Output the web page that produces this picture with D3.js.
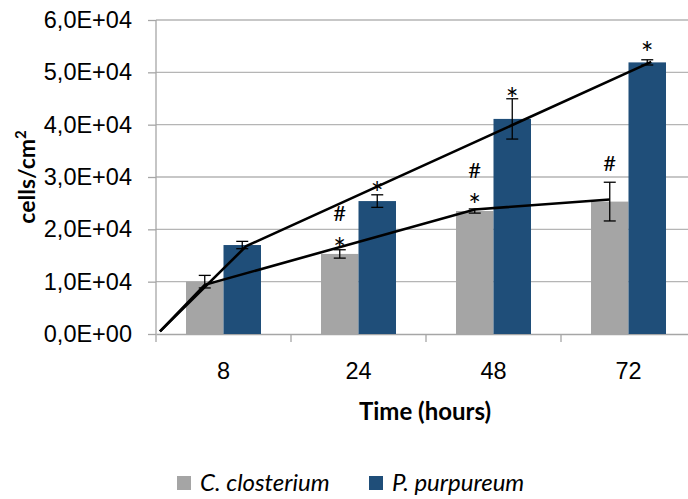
<!DOCTYPE html>
<html>
<head>
<meta charset="utf-8">
<script src="https://cdn.jsdelivr.net/npm/d3@7"></script>
<style>
  body { margin: 0; background: #fff; }
  svg { font-family: Lato, 'Open Sans', sans-serif; }
</style>
</head>
<body>
<div id="chart-area"></div>
<script>
var hours = ['8', '24', '48', '72'];
var species = ['C. closterium', 'P. purpureum'];
var closterium = [10000, 15300, 23500, 25300];
var purpureum = [17000, 25400, 41100, 51900];
var closteriumErr = [1200, 800, 400, 3700];
var purpureumErr = [700, 1200, 3850, 500];
var yTicks = [0, 10000, 20000, 30000, 40000, 50000, 60000];

// hand drawn trend lines: [hour or 'start', value]
var purpureumLine = [['start', 500], ['8', 16800], ['72', 52000]];
var closteriumLine = [['start', 500], ['8', 9400], ['48', 23800], ['72', 25700]];

// significance marks: [symbol, species index, hour, height]
var marks = [
  ['*', 0, '24', 17500], ['#', 0, '24', 23100], ['*', 1, '24', 28200],
  ['*', 0, '48', 26000], ['#', 0, '48', 31400], ['*', 1, '48', 46200],
  ['#', 0, '72', 32700], ['*', 1, '72', 55000]
];

var colors = ['#a5a5a5', '#1f4e79'];

var margin = { top: 20, right: 0, bottom: 165, left: 156 };
var width = 696 - margin.left;
var height = 499 - margin.top - margin.bottom;

var svg = d3.select('#chart-area').append('svg')
  .attr('width', 688).attr('height', 499);
var g = svg.append('g').attr('transform', `translate(${margin.left}, ${margin.top})`);

var x0 = d3.scaleBand().domain(hours).range([0, width]);
var x1 = d3.scaleBand().domain([0, 1]).range([0, x0.bandwidth()]).paddingOuter(0.8);
var y = d3.scaleLinear().domain([0, 60000]).range([height, 0]);

var fmt = d => (d / 10000).toFixed(1).replace('.', ',') + 'E+0' + (d === 0 ? '0' : '4');

// gridlines
g.selectAll('.grid').data(yTicks.slice(1)).enter().append('line')
  .attr('x1', 0).attr('x2', width)
  .attr('y1', d => y(d)).attr('y2', d => y(d))
  .attr('stroke', '#b5b5b5').attr('stroke-width', 1.3);

var yAxis = g.append('g').call(d3.axisLeft(y).tickValues(yTicks).tickFormat(fmt).tickSize(8).tickPadding(16));
yAxis.selectAll('line').attr('stroke', '#a6a6a6').attr('stroke-width', 1.3);
yAxis.select('.domain').attr('stroke', '#a6a6a6').attr('stroke-width', 1.3).attr('d', `M0,0V${height}`);
yAxis.selectAll('text').attr('font-size', '23.5px').attr('fill', '#000');

var xAxis = g.append('g').attr('transform', `translate(0, ${height})`)
  .call(d3.axisBottom(x0).tickSize(0).tickPadding(28));
xAxis.select('.domain').attr('stroke', '#a6a6a6').attr('stroke-width', 1.3);
xAxis.selectAll('text').attr('font-size', '23.5px').attr('fill', '#000');
xAxis.selectAll('.sep').data(hours).enter().append('line')
  .attr('x1', d => x0(d)).attr('x2', d => x0(d))
  .attr('y1', 0).attr('y2', 8)
  .attr('stroke', '#a6a6a6').attr('stroke-width', 1.3);

var rows = [closterium, purpureum];
var errs = [closteriumErr, purpureumErr];
var bars = [];
rows.forEach((vals, s) => vals.forEach((v, i) => bars.push({ s: s, h: hours[i], v: v, e: errs[s][i] })));

g.selectAll('rect.bar').data(bars).enter().append('rect')
  .attr('class', 'bar')
  .attr('x', d => x0(d.h) + x1(d.s))
  .attr('y', d => y(d.v))
  .attr('width', x1.bandwidth())
  .attr('height', d => height - y(d.v))
  .attr('fill', d => colors[d.s]);

// error bars
var eb = g.selectAll('g.err').data(bars).enter().append('g')
  .attr('transform', d => `translate(${x0(d.h) + x1(d.s) + x1.bandwidth() / 2}, 0)`);
eb.append('line').attr('y1', d => y(d.v + d.e)).attr('y2', d => y(d.v - d.e))
  .attr('stroke', '#000').attr('stroke-width', 1.3);
eb.append('line').attr('x1', -6).attr('x2', 6).attr('y1', d => y(d.v + d.e)).attr('y2', d => y(d.v + d.e))
  .attr('stroke', '#000').attr('stroke-width', 1.3);
eb.append('line').attr('x1', -6).attr('x2', 6).attr('y1', d => y(d.v - d.e)).attr('y2', d => y(d.v - d.e))
  .attr('stroke', '#000').attr('stroke-width', 1.3);

// trend lines
var px = (p, s) => p[0] === 'start' ? 4 : x0(p[0]) + x1(s) + x1.bandwidth() / 2 + (s === 1 ? 4 : 0);
var line = s => d3.line().x(p => px(p, s)).y(p => y(p[1]));
g.append('path').attr('d', line(0)(closteriumLine)).attr('fill', 'none').attr('stroke', '#000').attr('stroke-width', 2.6);
g.append('path').attr('d', line(1)(purpureumLine)).attr('fill', 'none').attr('stroke', '#000').attr('stroke-width', 2.6);

g.selectAll('text.mark').data(marks).enter().append('text')
  .attr('class', 'mark')
  .attr('x', d => x0(d[2]) + x1(d[1]) + x1.bandwidth() / 2)
  .attr('y', d => y(d[3]))
  .attr('dy', d => d[0] === '*' ? '0.6em' : '0.36em')
  .attr('text-anchor', 'middle')
  .attr('font-size', d => d[0] === '*' ? '30px' : '22px')
  .text(d => d[0]);

// axis labels
g.append('text')
  .attr('transform', `translate(-121, ${height / 2}) rotate(-90)`)
  .attr('text-anchor', 'middle').attr('font-size', '23px').attr('font-weight', 'bold')
  .html('cells/cm<tspan dy="-9" font-size="15px">2</tspan>');

svg.append('text')
  .attr('x', 425).attr('y', 420)
  .attr('text-anchor', 'middle').attr('font-size', '24px').attr('font-weight', 'bold')
  .text('Time (hours)');

// legend
var leg = svg.selectAll('g.leg').data(species).enter().append('g')
  .attr('transform', (d, i) => `translate(${[177, 369][i]}, 476)`);
leg.append('rect').attr('width', 14).attr('height', 14).attr('fill', (d, i) => colors[i]);
leg.append('text').attr('x', 23).attr('y', 15).attr('font-size', '24px').attr('font-style', 'italic').text(d => d);
</script>
</body>
</html>
